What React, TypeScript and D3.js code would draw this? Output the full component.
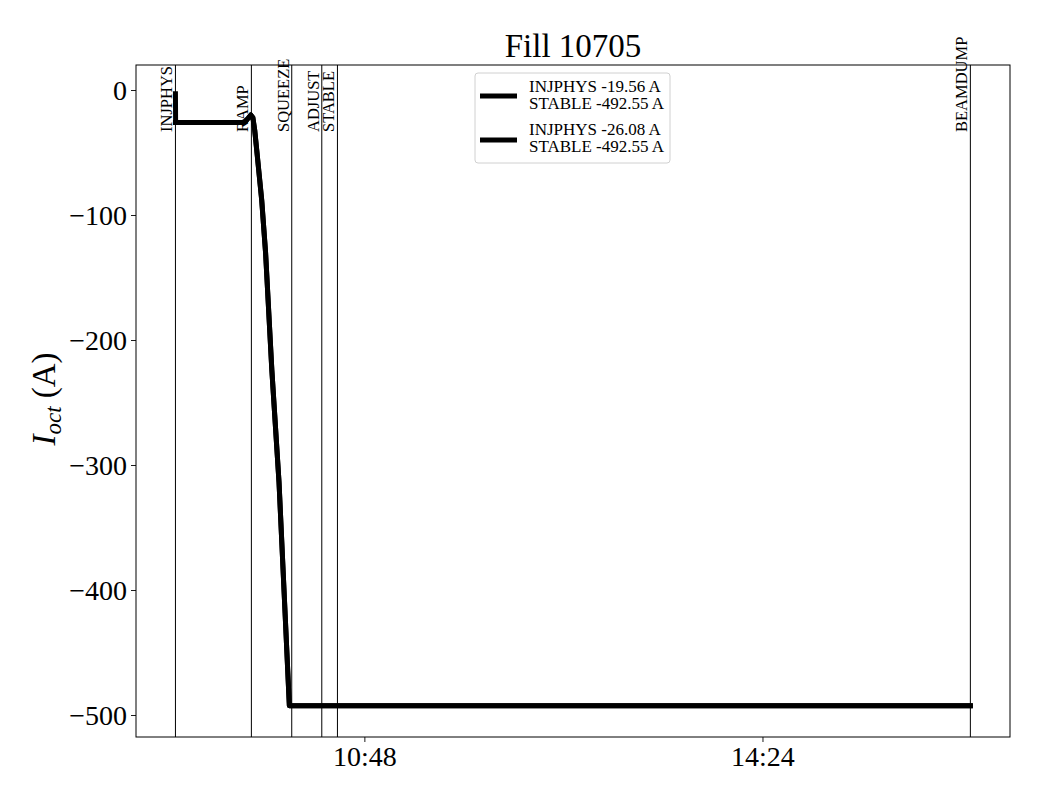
import React, { useEffect, useRef } from 'react';
import * as d3 from 'd3';

// phase markers (time of day)
const phaseNames = ['INJPHYS', 'RAMP', 'SQUEEZE', 'ADJUST', 'STABLE', 'BEAMDUMP'];
const phaseTimes = ['09:05:30', '09:46:42', '10:08:36', '10:24:54', '10:33:24', '16:16:48'];

// octupole current, beam 1
const b1Times = ['09:05:30', '09:05:36', '09:42:00', '09:43:30', '09:45:00', '09:46:24', '09:47:30', '09:48:30', '09:49:36', '09:52:18', '09:54:24', '09:57:48', '10:01:42', '10:05:00', '10:07:18', '16:16:48'];
const b1Values = [-3, -26.08, -26.08, -25, -22.5, -20, -22, -32, -48, -88, -130, -224, -314, -419, -492.55, -492.55];

// octupole current, beam 2
const b2Times = ['09:05:30', '09:42:00', '09:43:30', '09:45:00', '09:46:24', '09:47:30', '09:48:30', '09:49:36', '09:52:18', '09:54:24', '09:57:48', '10:01:42', '10:05:00', '10:07:18', '16:16:48'];
const b2Values = [-26.08, -26.08, -25, -22.5, -20, -22, -32, -48, -88, -130, -224, -314, -419, -492.55, -492.55];

const legendLabels = [
  ['INJPHYS -19.56 A', 'STABLE -492.55 A'],
  ['INJPHYS -26.08 A', 'STABLE -492.55 A'],
];

const yTicks = [0, -100, -200, -300, -400, -500];
const xTicks = ['10:48:00', '14:24:00'];
const xDomain = ['08:44:06', '16:38:18'];

function toDate(s: string) {
  const [h, m, sec] = s.split(':').map(Number);
  return new Date(2025, 4, 20, h, m, sec);
}

function App() {
  const ref = useRef<SVGSVGElement>(null);

  useEffect(() => {
    const width = 1040;
    const height = 800;
    const margin = { left: 136, right: 30, top: 65, bottom: 63 };
    const font = '"Liberation Serif", "DejaVu Serif", serif';

    const svg = d3.select(ref.current);
    svg.selectAll('*').remove();
    svg.attr('width', width).attr('height', height);

    svg.append('rect').attr('width', width).attr('height', height).attr('fill', '#fff');

    const x = d3.scaleTime()
      .domain(xDomain.map(toDate))
      .range([margin.left, width - margin.right]);
    const y = d3.scaleLinear()
      .domain([-517.6, 20])
      .range([height - margin.bottom, margin.top]);

    const fmt = (v: number) => (v < 0 ? '\u2212' + Math.abs(v) : String(v));

    // axes
    const yAxis = svg.append('g')
      .attr('transform', `translate(${margin.left},0)`)
      .call(d3.axisLeft(y).tickValues(yTicks).tickFormat(d => fmt(d as number)).tickSize(5).tickPadding(4));
    const xAxis = svg.append('g')
      .attr('transform', `translate(0,${height - margin.bottom})`)
      .call(d3.axisBottom(x).tickValues(xTicks.map(toDate)).tickFormat(d3.timeFormat('%H:%M') as any).tickSize(5).tickPadding(4));
    [xAxis, yAxis].forEach(a => {
      a.select('.domain').remove();
      a.selectAll('line').attr('stroke', '#000').attr('stroke-width', 0.9);
      a.selectAll('text').attr('font-family', font).attr('font-size', 28).attr('fill', '#000');
    });
    yAxis.selectAll('text').attr('dy', '0.34em');
    xAxis.selectAll('text').attr('dy', '0.7em');

    // phase lines
    phaseTimes.forEach((t, i) => {
      const px = x(toDate(t));
      svg.append('line')
        .attr('x1', px).attr('x2', px)
        .attr('y1', margin.top).attr('y2', height - margin.bottom)
        .attr('stroke', '#000').attr('stroke-width', 1);
      svg.append('text')
        .attr('transform', `translate(${px - 3},132) rotate(-90)`)
        .attr('font-family', font)
        .attr('font-size', 16.5)
        .attr('fill', '#000')
        .text(phaseNames[i]);
    });

    // current lines
    const line = d3.line<[Date, number]>()
      .x(d => x(d[0]))
      .y(d => y(d[1]));
    const series = [
      b1Times.map((t, i) => [toDate(t), b1Values[i]] as [Date, number]),
      b2Times.map((t, i) => [toDate(t), b2Values[i]] as [Date, number]),
    ];
    series.forEach(s => {
      svg.append('path')
        .attr('d', line(s))
        .attr('fill', 'none')
        .attr('stroke', '#000')
        .attr('stroke-width', 5)
        .attr('stroke-linejoin', 'round')
        .attr('stroke-linecap', 'square');
    });

    // frame
    svg.append('rect')
      .attr('x', margin.left).attr('y', margin.top)
      .attr('width', width - margin.left - margin.right)
      .attr('height', height - margin.top - margin.bottom)
      .attr('fill', 'none').attr('stroke', '#000').attr('stroke-width', 1);

    // legend
    const lg = svg.append('g').attr('transform', 'translate(475,73)');
    lg.append('rect')
      .attr('width', 195).attr('height', 90).attr('rx', 3)
      .attr('fill', '#fff').attr('fill-opacity', 0.8)
      .attr('stroke', '#d0d0d0');
    legendLabels.forEach((lines, i) => {
      const y0 = 23 + i * 44;
      lg.append('line')
        .attr('x1', 5).attr('x2', 42)
        .attr('y1', y0).attr('y2', y0)
        .attr('stroke', '#000').attr('stroke-width', 5);
      lines.forEach((txt, j) => {
        lg.append('text')
          .attr('x', 54)
          .attr('y', 18.5 + i * 43.5 + j * 17.3)
          .attr('font-family', font)
          .attr('font-size', 17)
          .attr('fill', '#000')
          .text(txt);
      });
    });

    // title
    svg.append('text')
      .attr('x', (margin.left + width - margin.right) / 2)
      .attr('y', 57)
      .attr('text-anchor', 'middle')
      .attr('font-family', font)
      .attr('font-size', 33)
      .attr('fill', '#000')
      .text('Fill 10705');

    // y label
    const yl = svg.append('text')
      .attr('transform', `translate(55,${(margin.top + height - margin.bottom) / 2 - 2}) rotate(-90)`)
      .attr('text-anchor', 'middle')
      .attr('font-family', font)
      .attr('font-size', 33)
      .attr('fill', '#000');
    yl.append('tspan').attr('font-style', 'italic').text('I');
    yl.append('tspan').attr('font-style', 'italic').attr('font-size', 23).attr('dy', 6).text('oct');
    yl.append('tspan').attr('dy', -6).text(' (A)');
  }, []);

  return (
    <div style={{ position: 'absolute', left: 0, top: 0 }}>
      <svg ref={ref}></svg>
    </div>
  );
}

export default App;
